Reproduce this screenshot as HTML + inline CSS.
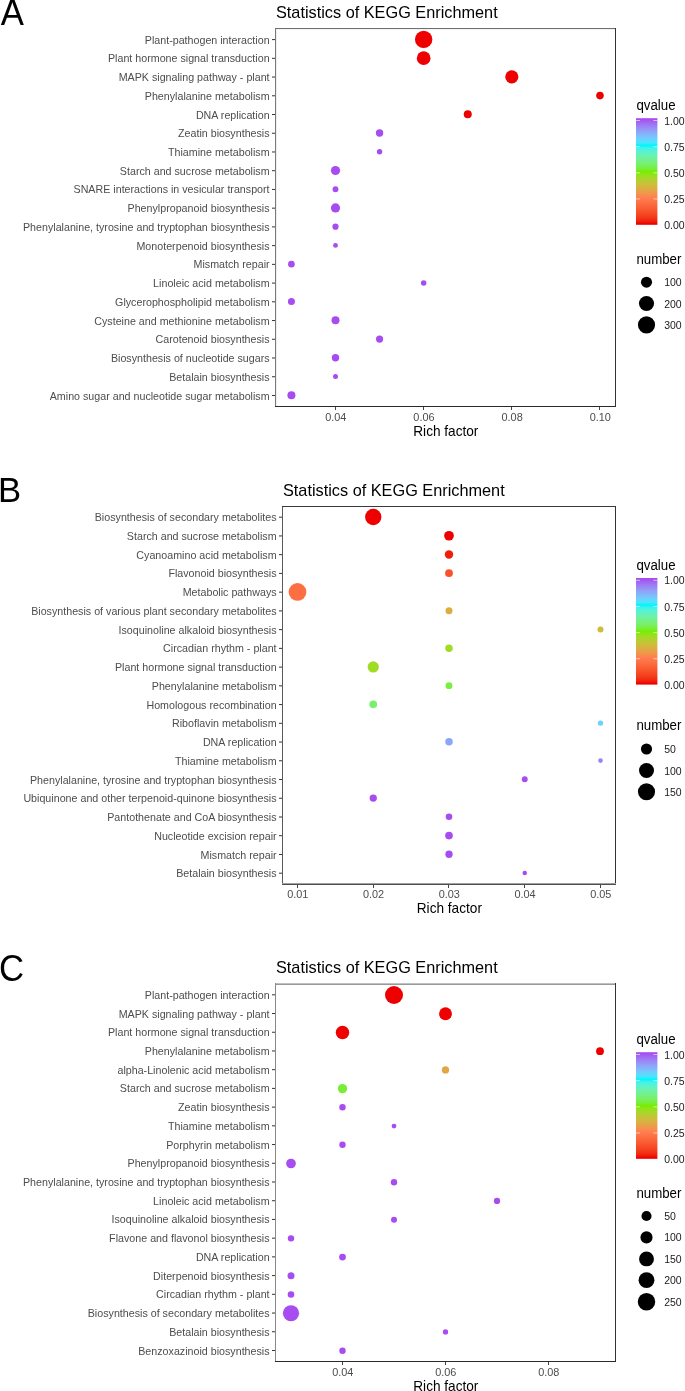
<!DOCTYPE html>
<html><head><meta charset="utf-8"><title>KEGG Enrichment</title>
<style>html,body{margin:0;padding:0;background:#fff;}body{width:685px;height:1391px;overflow:hidden;}svg{display:block;will-change:transform;}</style>
</head><body>
<svg width="685" height="1391" viewBox="0 0 685 1391" font-family="Liberation Sans, sans-serif">
<rect width="685" height="1391" fill="#fff"/>
<text x="276" y="18" font-size="16.3" fill="#000" transform="matrix(1,0,0,1.04,0,-0.720)">Statistics of KEGG Enrichment</text>
<text x="0.7" y="24.7" font-size="34.7" fill="#000" transform="matrix(1,0,0,1.04,0,-0.988)">A</text>
<rect x="275" y="28" width="1" height="379" fill="#7A7A7A"/>
<rect x="276" y="29" width="1" height="377" fill="#EEEEEE"/>
<rect x="275" y="28" width="341" height="1" fill="#707070"/>
<rect x="276" y="29" width="339" height="1" fill="#F2F2F2"/>
<rect x="615" y="28" width="1" height="379" fill="#333333"/>
<rect x="275" y="406" width="341" height="1" fill="#2A2A2A"/>
<line x1="272" y1="39.60" x2="275" y2="39.60" stroke="#333" stroke-width="1.0"/>
<text x="269.6" y="43.65" font-size="10.7" fill="#4D4D4D" text-anchor="end" transform="matrix(1,0,0,1.04,0,-1.746)">Plant-pathogen interaction</text>
<line x1="272" y1="58.33" x2="275" y2="58.33" stroke="#333" stroke-width="1.0"/>
<text x="269.6" y="62.38" font-size="10.7" fill="#4D4D4D" text-anchor="end" transform="matrix(1,0,0,1.04,0,-2.495)">Plant hormone signal transduction</text>
<line x1="272" y1="77.06" x2="275" y2="77.06" stroke="#333" stroke-width="1.0"/>
<text x="269.6" y="81.11" font-size="10.7" fill="#4D4D4D" text-anchor="end" transform="matrix(1,0,0,1.04,0,-3.244)">MAPK signaling pathway - plant</text>
<line x1="272" y1="95.79" x2="275" y2="95.79" stroke="#333" stroke-width="1.0"/>
<text x="269.6" y="99.84" font-size="10.7" fill="#4D4D4D" text-anchor="end" transform="matrix(1,0,0,1.04,0,-3.994)">Phenylalanine metabolism</text>
<line x1="272" y1="114.52" x2="275" y2="114.52" stroke="#333" stroke-width="1.0"/>
<text x="269.6" y="118.57" font-size="10.7" fill="#4D4D4D" text-anchor="end" transform="matrix(1,0,0,1.04,0,-4.743)">DNA replication</text>
<line x1="272" y1="133.25" x2="275" y2="133.25" stroke="#333" stroke-width="1.0"/>
<text x="269.6" y="137.30" font-size="10.7" fill="#4D4D4D" text-anchor="end" transform="matrix(1,0,0,1.04,0,-5.492)">Zeatin biosynthesis</text>
<line x1="272" y1="151.98" x2="275" y2="151.98" stroke="#333" stroke-width="1.0"/>
<text x="269.6" y="156.03" font-size="10.7" fill="#4D4D4D" text-anchor="end" transform="matrix(1,0,0,1.04,0,-6.241)">Thiamine metabolism</text>
<line x1="272" y1="170.71" x2="275" y2="170.71" stroke="#333" stroke-width="1.0"/>
<text x="269.6" y="174.76" font-size="10.7" fill="#4D4D4D" text-anchor="end" transform="matrix(1,0,0,1.04,0,-6.990)">Starch and sucrose metabolism</text>
<line x1="272" y1="189.44" x2="275" y2="189.44" stroke="#333" stroke-width="1.0"/>
<text x="269.6" y="193.49" font-size="10.7" fill="#4D4D4D" text-anchor="end" transform="matrix(1,0,0,1.04,0,-7.740)">SNARE interactions in vesicular transport</text>
<line x1="272" y1="208.17" x2="275" y2="208.17" stroke="#333" stroke-width="1.0"/>
<text x="269.6" y="212.22" font-size="10.7" fill="#4D4D4D" text-anchor="end" transform="matrix(1,0,0,1.04,0,-8.489)">Phenylpropanoid biosynthesis</text>
<line x1="272" y1="226.90" x2="275" y2="226.90" stroke="#333" stroke-width="1.0"/>
<text x="269.6" y="230.95" font-size="10.7" fill="#4D4D4D" text-anchor="end" transform="matrix(1,0,0,1.04,0,-9.238)">Phenylalanine, tyrosine and tryptophan biosynthesis</text>
<line x1="272" y1="245.63" x2="275" y2="245.63" stroke="#333" stroke-width="1.0"/>
<text x="269.6" y="249.68" font-size="10.7" fill="#4D4D4D" text-anchor="end" transform="matrix(1,0,0,1.04,0,-9.987)">Monoterpenoid biosynthesis</text>
<line x1="272" y1="264.36" x2="275" y2="264.36" stroke="#333" stroke-width="1.0"/>
<text x="269.6" y="268.41" font-size="10.7" fill="#4D4D4D" text-anchor="end" transform="matrix(1,0,0,1.04,0,-10.736)">Mismatch repair</text>
<line x1="272" y1="283.09" x2="275" y2="283.09" stroke="#333" stroke-width="1.0"/>
<text x="269.6" y="287.14" font-size="10.7" fill="#4D4D4D" text-anchor="end" transform="matrix(1,0,0,1.04,0,-11.486)">Linoleic acid metabolism</text>
<line x1="272" y1="301.82" x2="275" y2="301.82" stroke="#333" stroke-width="1.0"/>
<text x="269.6" y="305.87" font-size="10.7" fill="#4D4D4D" text-anchor="end" transform="matrix(1,0,0,1.04,0,-12.235)">Glycerophospholipid metabolism</text>
<line x1="272" y1="320.55" x2="275" y2="320.55" stroke="#333" stroke-width="1.0"/>
<text x="269.6" y="324.60" font-size="10.7" fill="#4D4D4D" text-anchor="end" transform="matrix(1,0,0,1.04,0,-12.984)">Cysteine and methionine metabolism</text>
<line x1="272" y1="339.28" x2="275" y2="339.28" stroke="#333" stroke-width="1.0"/>
<text x="269.6" y="343.33" font-size="10.7" fill="#4D4D4D" text-anchor="end" transform="matrix(1,0,0,1.04,0,-13.733)">Carotenoid biosynthesis</text>
<line x1="272" y1="358.01" x2="275" y2="358.01" stroke="#333" stroke-width="1.0"/>
<text x="269.6" y="362.06" font-size="10.7" fill="#4D4D4D" text-anchor="end" transform="matrix(1,0,0,1.04,0,-14.482)">Biosynthesis of nucleotide sugars</text>
<line x1="272" y1="376.74" x2="275" y2="376.74" stroke="#333" stroke-width="1.0"/>
<text x="269.6" y="380.79" font-size="10.7" fill="#4D4D4D" text-anchor="end" transform="matrix(1,0,0,1.04,0,-15.232)">Betalain biosynthesis</text>
<line x1="272" y1="395.47" x2="275" y2="395.47" stroke="#333" stroke-width="1.0"/>
<text x="269.6" y="399.52" font-size="10.7" fill="#4D4D4D" text-anchor="end" transform="matrix(1,0,0,1.04,0,-15.981)">Amino sugar and nucleotide sugar metabolism</text>
<rect x="335" y="407" width="1" height="3" fill="#444"/>
<text x="335.80" y="420.60" font-size="10.9" fill="#4D4D4D" text-anchor="middle" transform="matrix(1,0,0,1.04,0,-16.824)">0.04</text>
<rect x="423" y="407" width="1" height="3" fill="#444"/>
<text x="423.96" y="420.60" font-size="10.9" fill="#4D4D4D" text-anchor="middle" transform="matrix(1,0,0,1.04,0,-16.824)">0.06</text>
<rect x="511" y="407" width="1" height="3" fill="#444"/>
<text x="512.12" y="420.60" font-size="10.9" fill="#4D4D4D" text-anchor="middle" transform="matrix(1,0,0,1.04,0,-16.824)">0.08</text>
<rect x="599" y="407" width="1" height="3" fill="#444"/>
<text x="600.28" y="420.60" font-size="10.9" fill="#4D4D4D" text-anchor="middle" transform="matrix(1,0,0,1.04,0,-16.824)">0.10</text>
<text x="445.85" y="436.00" font-size="13.65" fill="#000" text-anchor="middle" transform="matrix(1,0,0,1.04,0,-17.440)">Rich factor</text>
<circle cx="423.66" cy="39.40" r="8.70" fill="#EE0000"/>
<circle cx="423.66" cy="58.13" r="6.85" fill="#EE0000"/>
<circle cx="511.82" cy="76.86" r="6.60" fill="#EE0000"/>
<circle cx="599.98" cy="95.59" r="3.80" fill="#EE0000"/>
<circle cx="467.74" cy="114.32" r="4.00" fill="#EE0000"/>
<circle cx="379.58" cy="133.05" r="3.70" fill="#A64CF0"/>
<circle cx="379.58" cy="151.78" r="2.70" fill="#A64CF0"/>
<circle cx="335.50" cy="170.51" r="4.60" fill="#A64CF0"/>
<circle cx="335.50" cy="189.24" r="2.90" fill="#A64CF0"/>
<circle cx="335.50" cy="207.97" r="4.60" fill="#A64CF0"/>
<circle cx="335.50" cy="226.70" r="3.10" fill="#A64CF0"/>
<circle cx="335.50" cy="245.43" r="2.40" fill="#A64CF0"/>
<circle cx="291.42" cy="264.16" r="3.30" fill="#A64CF0"/>
<circle cx="423.66" cy="282.89" r="2.75" fill="#A64CF0"/>
<circle cx="291.42" cy="301.62" r="3.50" fill="#A64CF0"/>
<circle cx="335.50" cy="320.35" r="4.00" fill="#A64CF0"/>
<circle cx="379.58" cy="339.08" r="3.60" fill="#A64CF0"/>
<circle cx="335.50" cy="357.81" r="3.70" fill="#A64CF0"/>
<circle cx="335.50" cy="376.54" r="2.50" fill="#A64CF0"/>
<circle cx="291.42" cy="395.27" r="4.00" fill="#A64CF0"/>
<text x="636.4" y="110.10" font-size="13.3" fill="#000" transform="matrix(1,0,0,1.04,0,-4.404)">qvalue</text>
<defs><linearGradient id="gA" gradientUnits="userSpaceOnUse" x1="0" y1="119.20" x2="0" y2="223.80"><stop offset="0.000" stop-color="#A64CF0"/><stop offset="0.025" stop-color="#A362F2"/><stop offset="0.050" stop-color="#9F75F4"/><stop offset="0.075" stop-color="#9A87F5"/><stop offset="0.100" stop-color="#9498F7"/><stop offset="0.125" stop-color="#8CA8F8"/><stop offset="0.150" stop-color="#81B8FA"/><stop offset="0.175" stop-color="#74C8FB"/><stop offset="0.200" stop-color="#63D7FD"/><stop offset="0.225" stop-color="#48E6FE"/><stop offset="0.250" stop-color="#00F5FF"/><stop offset="0.275" stop-color="#3EF4EB"/><stop offset="0.300" stop-color="#54F3D7"/><stop offset="0.325" stop-color="#61F2C3"/><stop offset="0.350" stop-color="#6BF2AF"/><stop offset="0.375" stop-color="#71F19A"/><stop offset="0.400" stop-color="#75F085"/><stop offset="0.425" stop-color="#78F06F"/><stop offset="0.450" stop-color="#78EF57"/><stop offset="0.475" stop-color="#78EF3A"/><stop offset="0.500" stop-color="#76EE00"/><stop offset="0.525" stop-color="#8DE518"/><stop offset="0.550" stop-color="#A0DC24"/><stop offset="0.575" stop-color="#B0D22D"/><stop offset="0.600" stop-color="#BFC834"/><stop offset="0.625" stop-color="#CCBE3A"/><stop offset="0.650" stop-color="#D7B33F"/><stop offset="0.675" stop-color="#E2A744"/><stop offset="0.700" stop-color="#ED9B48"/><stop offset="0.725" stop-color="#F68E4C"/><stop offset="0.750" stop-color="#FF7F50"/><stop offset="0.775" stop-color="#FE7749"/><stop offset="0.800" stop-color="#FD6F42"/><stop offset="0.825" stop-color="#FB663A"/><stop offset="0.850" stop-color="#FA5E33"/><stop offset="0.875" stop-color="#F8542C"/><stop offset="0.900" stop-color="#F64A24"/><stop offset="0.925" stop-color="#F43F1D"/><stop offset="0.950" stop-color="#F23214"/><stop offset="0.975" stop-color="#F0210A"/><stop offset="1.000" stop-color="#EE0000"/></linearGradient></defs>
<rect x="636" y="118.2" width="21.4" height="106.6" fill="url(#gA)"/>
<rect x="636" y="120.00" width="4" height="1" fill="#fff" opacity="0.6"/>
<rect x="653.4" y="120.00" width="4" height="1" fill="#fff" opacity="0.6"/>
<text x="664.2" y="124.60" font-size="10.5" fill="#1A1A1A" transform="matrix(1,0,0,1.04,0,-4.984)">1.00</text>
<rect x="636" y="146.15" width="4" height="1" fill="#fff" opacity="0.6"/>
<rect x="653.4" y="146.15" width="4" height="1" fill="#fff" opacity="0.6"/>
<text x="664.2" y="150.75" font-size="10.5" fill="#1A1A1A" transform="matrix(1,0,0,1.04,0,-6.030)">0.75</text>
<rect x="636" y="172.30" width="4" height="1" fill="#fff" opacity="0.6"/>
<rect x="653.4" y="172.30" width="4" height="1" fill="#fff" opacity="0.6"/>
<text x="664.2" y="176.90" font-size="10.5" fill="#1A1A1A" transform="matrix(1,0,0,1.04,0,-7.076)">0.50</text>
<rect x="636" y="198.45" width="4" height="1" fill="#fff" opacity="0.6"/>
<rect x="653.4" y="198.45" width="4" height="1" fill="#fff" opacity="0.6"/>
<text x="664.2" y="203.05" font-size="10.5" fill="#1A1A1A" transform="matrix(1,0,0,1.04,0,-8.122)">0.25</text>
<text x="664.2" y="229.20" font-size="10.5" fill="#1A1A1A" transform="matrix(1,0,0,1.04,0,-9.168)">0.00</text>
<text x="636.4" y="263.6" font-size="13.3" fill="#000" transform="matrix(1,0,0,1.04,0,-10.544)">number</text>
<circle cx="646.5" cy="282.2" r="5.55" fill="#000"/>
<text x="664.2" y="286.30" font-size="10.5" fill="#1A1A1A" transform="matrix(1,0,0,1.04,0,-11.452)">100</text>
<circle cx="646.5" cy="303.5" r="7.55" fill="#000"/>
<text x="664.2" y="307.60" font-size="10.5" fill="#1A1A1A" transform="matrix(1,0,0,1.04,0,-12.304)">200</text>
<circle cx="646.5" cy="324.9" r="8.55" fill="#000"/>
<text x="664.2" y="329.00" font-size="10.5" fill="#1A1A1A" transform="matrix(1,0,0,1.04,0,-13.160)">300</text>
<text x="283" y="495.6" font-size="16.3" fill="#000" transform="matrix(1,0,0,1.04,0,-19.824)">Statistics of KEGG Enrichment</text>
<text x="-1.95" y="502.4" font-size="34.7" fill="#000">B</text>
<rect x="282" y="506" width="1" height="379" fill="#5A5A5A"/>
<rect x="282" y="506" width="334" height="1" fill="#3A3A3A"/>
<rect x="615" y="506" width="1" height="379" fill="#333333"/>
<rect x="282" y="883" width="334" height="1" fill="#A0A0A0"/>
<rect x="282" y="884" width="334" height="1" fill="#505050"/>
<line x1="279" y1="517.20" x2="282" y2="517.20" stroke="#333" stroke-width="1.0"/>
<text x="276.6" y="521.25" font-size="10.7" fill="#4D4D4D" text-anchor="end" transform="matrix(1,0,0,1.04,0,-20.850)">Biosynthesis of secondary metabolites</text>
<line x1="279" y1="535.94" x2="282" y2="535.94" stroke="#333" stroke-width="1.0"/>
<text x="276.6" y="539.99" font-size="10.7" fill="#4D4D4D" text-anchor="end" transform="matrix(1,0,0,1.04,0,-21.599)">Starch and sucrose metabolism</text>
<line x1="279" y1="554.67" x2="282" y2="554.67" stroke="#333" stroke-width="1.0"/>
<text x="276.6" y="558.72" font-size="10.7" fill="#4D4D4D" text-anchor="end" transform="matrix(1,0,0,1.04,0,-22.349)">Cyanoamino acid metabolism</text>
<line x1="279" y1="573.41" x2="282" y2="573.41" stroke="#333" stroke-width="1.0"/>
<text x="276.6" y="577.46" font-size="10.7" fill="#4D4D4D" text-anchor="end" transform="matrix(1,0,0,1.04,0,-23.098)">Flavonoid biosynthesis</text>
<line x1="279" y1="592.15" x2="282" y2="592.15" stroke="#333" stroke-width="1.0"/>
<text x="276.6" y="596.20" font-size="10.7" fill="#4D4D4D" text-anchor="end" transform="matrix(1,0,0,1.04,0,-23.848)">Metabolic pathways</text>
<line x1="279" y1="610.88" x2="282" y2="610.88" stroke="#333" stroke-width="1.0"/>
<text x="276.6" y="614.93" font-size="10.7" fill="#4D4D4D" text-anchor="end" transform="matrix(1,0,0,1.04,0,-24.597)">Biosynthesis of various plant secondary metabolites</text>
<line x1="279" y1="629.62" x2="282" y2="629.62" stroke="#333" stroke-width="1.0"/>
<text x="276.6" y="633.67" font-size="10.7" fill="#4D4D4D" text-anchor="end" transform="matrix(1,0,0,1.04,0,-25.347)">Isoquinoline alkaloid biosynthesis</text>
<line x1="279" y1="648.36" x2="282" y2="648.36" stroke="#333" stroke-width="1.0"/>
<text x="276.6" y="652.41" font-size="10.7" fill="#4D4D4D" text-anchor="end" transform="matrix(1,0,0,1.04,0,-26.096)">Circadian rhythm - plant</text>
<line x1="279" y1="667.10" x2="282" y2="667.10" stroke="#333" stroke-width="1.0"/>
<text x="276.6" y="671.15" font-size="10.7" fill="#4D4D4D" text-anchor="end" transform="matrix(1,0,0,1.04,0,-26.846)">Plant hormone signal transduction</text>
<line x1="279" y1="685.83" x2="282" y2="685.83" stroke="#333" stroke-width="1.0"/>
<text x="276.6" y="689.88" font-size="10.7" fill="#4D4D4D" text-anchor="end" transform="matrix(1,0,0,1.04,0,-27.595)">Phenylalanine metabolism</text>
<line x1="279" y1="704.57" x2="282" y2="704.57" stroke="#333" stroke-width="1.0"/>
<text x="276.6" y="708.62" font-size="10.7" fill="#4D4D4D" text-anchor="end" transform="matrix(1,0,0,1.04,0,-28.345)">Homologous recombination</text>
<line x1="279" y1="723.31" x2="282" y2="723.31" stroke="#333" stroke-width="1.0"/>
<text x="276.6" y="727.36" font-size="10.7" fill="#4D4D4D" text-anchor="end" transform="matrix(1,0,0,1.04,0,-29.094)">Riboflavin metabolism</text>
<line x1="279" y1="742.04" x2="282" y2="742.04" stroke="#333" stroke-width="1.0"/>
<text x="276.6" y="746.09" font-size="10.7" fill="#4D4D4D" text-anchor="end" transform="matrix(1,0,0,1.04,0,-29.844)">DNA replication</text>
<line x1="279" y1="760.78" x2="282" y2="760.78" stroke="#333" stroke-width="1.0"/>
<text x="276.6" y="764.83" font-size="10.7" fill="#4D4D4D" text-anchor="end" transform="matrix(1,0,0,1.04,0,-30.593)">Thiamine metabolism</text>
<line x1="279" y1="779.52" x2="282" y2="779.52" stroke="#333" stroke-width="1.0"/>
<text x="276.6" y="783.57" font-size="10.7" fill="#4D4D4D" text-anchor="end" transform="matrix(1,0,0,1.04,0,-31.343)">Phenylalanine, tyrosine and tryptophan biosynthesis</text>
<line x1="279" y1="798.25" x2="282" y2="798.25" stroke="#333" stroke-width="1.0"/>
<text x="276.6" y="802.30" font-size="10.7" fill="#4D4D4D" text-anchor="end" transform="matrix(1,0,0,1.04,0,-32.092)">Ubiquinone and other terpenoid-quinone biosynthesis</text>
<line x1="279" y1="816.99" x2="282" y2="816.99" stroke="#333" stroke-width="1.0"/>
<text x="276.6" y="821.04" font-size="10.7" fill="#4D4D4D" text-anchor="end" transform="matrix(1,0,0,1.04,0,-32.842)">Pantothenate and CoA biosynthesis</text>
<line x1="279" y1="835.73" x2="282" y2="835.73" stroke="#333" stroke-width="1.0"/>
<text x="276.6" y="839.78" font-size="10.7" fill="#4D4D4D" text-anchor="end" transform="matrix(1,0,0,1.04,0,-33.591)">Nucleotide excision repair</text>
<line x1="279" y1="854.47" x2="282" y2="854.47" stroke="#333" stroke-width="1.0"/>
<text x="276.6" y="858.52" font-size="10.7" fill="#4D4D4D" text-anchor="end" transform="matrix(1,0,0,1.04,0,-34.341)">Mismatch repair</text>
<line x1="279" y1="873.20" x2="282" y2="873.20" stroke="#333" stroke-width="1.0"/>
<text x="276.6" y="877.25" font-size="10.7" fill="#4D4D4D" text-anchor="end" transform="matrix(1,0,0,1.04,0,-35.090)">Betalain biosynthesis</text>
<rect x="297" y="885" width="1" height="3" fill="#444"/>
<text x="297.80" y="897.90" font-size="10.9" fill="#4D4D4D" text-anchor="middle" transform="matrix(1,0,0,1.04,0,-35.916)">0.01</text>
<rect x="373" y="885" width="1" height="3" fill="#444"/>
<text x="373.55" y="897.90" font-size="10.9" fill="#4D4D4D" text-anchor="middle" transform="matrix(1,0,0,1.04,0,-35.916)">0.02</text>
<rect x="448" y="885" width="1" height="3" fill="#444"/>
<text x="449.30" y="897.90" font-size="10.9" fill="#4D4D4D" text-anchor="middle" transform="matrix(1,0,0,1.04,0,-35.916)">0.03</text>
<rect x="524" y="885" width="1" height="3" fill="#444"/>
<text x="525.05" y="897.90" font-size="10.9" fill="#4D4D4D" text-anchor="middle" transform="matrix(1,0,0,1.04,0,-35.916)">0.04</text>
<rect x="600" y="885" width="1" height="3" fill="#444"/>
<text x="600.80" y="897.90" font-size="10.9" fill="#4D4D4D" text-anchor="middle" transform="matrix(1,0,0,1.04,0,-35.916)">0.05</text>
<text x="449.35" y="913.10" font-size="13.65" fill="#000" text-anchor="middle" transform="matrix(1,0,0,1.04,0,-36.524)">Rich factor</text>
<circle cx="373.25" cy="517.00" r="8.20" fill="#EE0000"/>
<circle cx="449.00" cy="535.74" r="4.85" fill="#EE0000"/>
<circle cx="449.00" cy="554.47" r="4.20" fill="#F01D08"/>
<circle cx="449.00" cy="573.21" r="3.85" fill="#F8522A"/>
<circle cx="297.50" cy="591.95" r="8.90" fill="#FD6F42"/>
<circle cx="449.00" cy="610.68" r="3.50" fill="#DCAE41"/>
<circle cx="600.50" cy="629.42" r="3.00" fill="#CEBB3B"/>
<circle cx="449.00" cy="648.16" r="3.75" fill="#A0DC24"/>
<circle cx="373.25" cy="666.90" r="5.65" fill="#A0DC24"/>
<circle cx="449.00" cy="685.63" r="3.45" fill="#78EF41"/>
<circle cx="373.25" cy="704.37" r="3.85" fill="#78F06A"/>
<circle cx="600.50" cy="723.11" r="2.70" fill="#6AD1FC"/>
<circle cx="449.00" cy="741.84" r="3.75" fill="#8DA5F8"/>
<circle cx="600.50" cy="760.58" r="2.30" fill="#9C80F5"/>
<circle cx="524.75" cy="779.32" r="2.95" fill="#A64CF0"/>
<circle cx="373.25" cy="798.05" r="3.65" fill="#A64CF0"/>
<circle cx="449.00" cy="816.79" r="3.30" fill="#A64CF0"/>
<circle cx="449.00" cy="835.53" r="3.85" fill="#A64CF0"/>
<circle cx="449.00" cy="854.27" r="3.65" fill="#A64CF0"/>
<circle cx="524.75" cy="873.00" r="2.25" fill="#A64CF0"/>
<text x="636.4" y="569.90" font-size="13.3" fill="#000" transform="matrix(1,0,0,1.04,0,-22.796)">qvalue</text>
<defs><linearGradient id="gB" gradientUnits="userSpaceOnUse" x1="0" y1="579.00" x2="0" y2="683.60"><stop offset="0.000" stop-color="#A64CF0"/><stop offset="0.025" stop-color="#A362F2"/><stop offset="0.050" stop-color="#9F75F4"/><stop offset="0.075" stop-color="#9A87F5"/><stop offset="0.100" stop-color="#9498F7"/><stop offset="0.125" stop-color="#8CA8F8"/><stop offset="0.150" stop-color="#81B8FA"/><stop offset="0.175" stop-color="#74C8FB"/><stop offset="0.200" stop-color="#63D7FD"/><stop offset="0.225" stop-color="#48E6FE"/><stop offset="0.250" stop-color="#00F5FF"/><stop offset="0.275" stop-color="#3EF4EB"/><stop offset="0.300" stop-color="#54F3D7"/><stop offset="0.325" stop-color="#61F2C3"/><stop offset="0.350" stop-color="#6BF2AF"/><stop offset="0.375" stop-color="#71F19A"/><stop offset="0.400" stop-color="#75F085"/><stop offset="0.425" stop-color="#78F06F"/><stop offset="0.450" stop-color="#78EF57"/><stop offset="0.475" stop-color="#78EF3A"/><stop offset="0.500" stop-color="#76EE00"/><stop offset="0.525" stop-color="#8DE518"/><stop offset="0.550" stop-color="#A0DC24"/><stop offset="0.575" stop-color="#B0D22D"/><stop offset="0.600" stop-color="#BFC834"/><stop offset="0.625" stop-color="#CCBE3A"/><stop offset="0.650" stop-color="#D7B33F"/><stop offset="0.675" stop-color="#E2A744"/><stop offset="0.700" stop-color="#ED9B48"/><stop offset="0.725" stop-color="#F68E4C"/><stop offset="0.750" stop-color="#FF7F50"/><stop offset="0.775" stop-color="#FE7749"/><stop offset="0.800" stop-color="#FD6F42"/><stop offset="0.825" stop-color="#FB663A"/><stop offset="0.850" stop-color="#FA5E33"/><stop offset="0.875" stop-color="#F8542C"/><stop offset="0.900" stop-color="#F64A24"/><stop offset="0.925" stop-color="#F43F1D"/><stop offset="0.950" stop-color="#F23214"/><stop offset="0.975" stop-color="#F0210A"/><stop offset="1.000" stop-color="#EE0000"/></linearGradient></defs>
<rect x="636" y="578" width="21.4" height="106.6" fill="url(#gB)"/>
<rect x="636" y="579.80" width="4" height="1" fill="#fff" opacity="0.6"/>
<rect x="653.4" y="579.80" width="4" height="1" fill="#fff" opacity="0.6"/>
<text x="664.2" y="584.40" font-size="10.5" fill="#1A1A1A" transform="matrix(1,0,0,1.04,0,-23.376)">1.00</text>
<rect x="636" y="605.95" width="4" height="1" fill="#fff" opacity="0.6"/>
<rect x="653.4" y="605.95" width="4" height="1" fill="#fff" opacity="0.6"/>
<text x="664.2" y="610.55" font-size="10.5" fill="#1A1A1A" transform="matrix(1,0,0,1.04,0,-24.422)">0.75</text>
<rect x="636" y="632.10" width="4" height="1" fill="#fff" opacity="0.6"/>
<rect x="653.4" y="632.10" width="4" height="1" fill="#fff" opacity="0.6"/>
<text x="664.2" y="636.70" font-size="10.5" fill="#1A1A1A" transform="matrix(1,0,0,1.04,0,-25.468)">0.50</text>
<rect x="636" y="658.25" width="4" height="1" fill="#fff" opacity="0.6"/>
<rect x="653.4" y="658.25" width="4" height="1" fill="#fff" opacity="0.6"/>
<text x="664.2" y="662.85" font-size="10.5" fill="#1A1A1A" transform="matrix(1,0,0,1.04,0,-26.514)">0.25</text>
<text x="664.2" y="689.00" font-size="10.5" fill="#1A1A1A" transform="matrix(1,0,0,1.04,0,-27.560)">0.00</text>
<text x="636.4" y="729.9" font-size="13.3" fill="#000" transform="matrix(1,0,0,1.04,0,-29.196)">number</text>
<circle cx="646.5" cy="749" r="5.55" fill="#000"/>
<text x="664.2" y="753.10" font-size="10.5" fill="#1A1A1A" transform="matrix(1,0,0,1.04,0,-30.124)">50</text>
<circle cx="646.5" cy="770.5" r="7.5" fill="#000"/>
<text x="664.2" y="774.60" font-size="10.5" fill="#1A1A1A" transform="matrix(1,0,0,1.04,0,-30.984)">100</text>
<circle cx="646.5" cy="791.7" r="8.55" fill="#000"/>
<text x="664.2" y="795.80" font-size="10.5" fill="#1A1A1A" transform="matrix(1,0,0,1.04,0,-31.832)">150</text>
<text x="276" y="973" font-size="16.3" fill="#000" transform="matrix(1,0,0,1.04,0,-38.920)">Statistics of KEGG Enrichment</text>
<text x="-1.1" y="980.8" font-size="34.7" fill="#000" transform="matrix(1,0,0,1.04,0,-39.232)">C</text>
<rect x="275" y="983" width="341" height="1" fill="#C0C0C0"/>
<rect x="275" y="984" width="341" height="1" fill="#999999"/>
<rect x="275" y="983" width="1" height="379" fill="#888888"/>
<rect x="615" y="983" width="1" height="379" fill="#333333"/>
<rect x="275" y="1361" width="341" height="1" fill="#2A2A2A"/>
<line x1="272" y1="994.80" x2="275" y2="994.80" stroke="#333" stroke-width="1.0"/>
<text x="269.6" y="998.85" font-size="10.7" fill="#4D4D4D" text-anchor="end" transform="matrix(1,0,0,1.04,0,-39.954)">Plant-pathogen interaction</text>
<line x1="272" y1="1013.52" x2="275" y2="1013.52" stroke="#333" stroke-width="1.0"/>
<text x="269.6" y="1017.57" font-size="10.7" fill="#4D4D4D" text-anchor="end" transform="matrix(1,0,0,1.04,0,-40.703)">MAPK signaling pathway - plant</text>
<line x1="272" y1="1032.24" x2="275" y2="1032.24" stroke="#333" stroke-width="1.0"/>
<text x="269.6" y="1036.29" font-size="10.7" fill="#4D4D4D" text-anchor="end" transform="matrix(1,0,0,1.04,0,-41.452)">Plant hormone signal transduction</text>
<line x1="272" y1="1050.96" x2="275" y2="1050.96" stroke="#333" stroke-width="1.0"/>
<text x="269.6" y="1055.01" font-size="10.7" fill="#4D4D4D" text-anchor="end" transform="matrix(1,0,0,1.04,0,-42.200)">Phenylalanine metabolism</text>
<line x1="272" y1="1069.68" x2="275" y2="1069.68" stroke="#333" stroke-width="1.0"/>
<text x="269.6" y="1073.73" font-size="10.7" fill="#4D4D4D" text-anchor="end" transform="matrix(1,0,0,1.04,0,-42.949)">alpha-Linolenic acid metabolism</text>
<line x1="272" y1="1088.40" x2="275" y2="1088.40" stroke="#333" stroke-width="1.0"/>
<text x="269.6" y="1092.45" font-size="10.7" fill="#4D4D4D" text-anchor="end" transform="matrix(1,0,0,1.04,0,-43.698)">Starch and sucrose metabolism</text>
<line x1="272" y1="1107.12" x2="275" y2="1107.12" stroke="#333" stroke-width="1.0"/>
<text x="269.6" y="1111.17" font-size="10.7" fill="#4D4D4D" text-anchor="end" transform="matrix(1,0,0,1.04,0,-44.447)">Zeatin biosynthesis</text>
<line x1="272" y1="1125.84" x2="275" y2="1125.84" stroke="#333" stroke-width="1.0"/>
<text x="269.6" y="1129.89" font-size="10.7" fill="#4D4D4D" text-anchor="end" transform="matrix(1,0,0,1.04,0,-45.196)">Thiamine metabolism</text>
<line x1="272" y1="1144.56" x2="275" y2="1144.56" stroke="#333" stroke-width="1.0"/>
<text x="269.6" y="1148.61" font-size="10.7" fill="#4D4D4D" text-anchor="end" transform="matrix(1,0,0,1.04,0,-45.944)">Porphyrin metabolism</text>
<line x1="272" y1="1163.28" x2="275" y2="1163.28" stroke="#333" stroke-width="1.0"/>
<text x="269.6" y="1167.33" font-size="10.7" fill="#4D4D4D" text-anchor="end" transform="matrix(1,0,0,1.04,0,-46.693)">Phenylpropanoid biosynthesis</text>
<line x1="272" y1="1182.00" x2="275" y2="1182.00" stroke="#333" stroke-width="1.0"/>
<text x="269.6" y="1186.05" font-size="10.7" fill="#4D4D4D" text-anchor="end" transform="matrix(1,0,0,1.04,0,-47.442)">Phenylalanine, tyrosine and tryptophan biosynthesis</text>
<line x1="272" y1="1200.72" x2="275" y2="1200.72" stroke="#333" stroke-width="1.0"/>
<text x="269.6" y="1204.77" font-size="10.7" fill="#4D4D4D" text-anchor="end" transform="matrix(1,0,0,1.04,0,-48.191)">Linoleic acid metabolism</text>
<line x1="272" y1="1219.44" x2="275" y2="1219.44" stroke="#333" stroke-width="1.0"/>
<text x="269.6" y="1223.49" font-size="10.7" fill="#4D4D4D" text-anchor="end" transform="matrix(1,0,0,1.04,0,-48.940)">Isoquinoline alkaloid biosynthesis</text>
<line x1="272" y1="1238.16" x2="275" y2="1238.16" stroke="#333" stroke-width="1.0"/>
<text x="269.6" y="1242.21" font-size="10.7" fill="#4D4D4D" text-anchor="end" transform="matrix(1,0,0,1.04,0,-49.688)">Flavone and flavonol biosynthesis</text>
<line x1="272" y1="1256.88" x2="275" y2="1256.88" stroke="#333" stroke-width="1.0"/>
<text x="269.6" y="1260.93" font-size="10.7" fill="#4D4D4D" text-anchor="end" transform="matrix(1,0,0,1.04,0,-50.437)">DNA replication</text>
<line x1="272" y1="1275.60" x2="275" y2="1275.60" stroke="#333" stroke-width="1.0"/>
<text x="269.6" y="1279.65" font-size="10.7" fill="#4D4D4D" text-anchor="end" transform="matrix(1,0,0,1.04,0,-51.186)">Diterpenoid biosynthesis</text>
<line x1="272" y1="1294.32" x2="275" y2="1294.32" stroke="#333" stroke-width="1.0"/>
<text x="269.6" y="1298.37" font-size="10.7" fill="#4D4D4D" text-anchor="end" transform="matrix(1,0,0,1.04,0,-51.935)">Circadian rhythm - plant</text>
<line x1="272" y1="1313.04" x2="275" y2="1313.04" stroke="#333" stroke-width="1.0"/>
<text x="269.6" y="1317.09" font-size="10.7" fill="#4D4D4D" text-anchor="end" transform="matrix(1,0,0,1.04,0,-52.684)">Biosynthesis of secondary metabolites</text>
<line x1="272" y1="1331.76" x2="275" y2="1331.76" stroke="#333" stroke-width="1.0"/>
<text x="269.6" y="1335.81" font-size="10.7" fill="#4D4D4D" text-anchor="end" transform="matrix(1,0,0,1.04,0,-53.432)">Betalain biosynthesis</text>
<line x1="272" y1="1350.48" x2="275" y2="1350.48" stroke="#333" stroke-width="1.0"/>
<text x="269.6" y="1354.53" font-size="10.7" fill="#4D4D4D" text-anchor="end" transform="matrix(1,0,0,1.04,0,-54.181)">Benzoxazinoid biosynthesis</text>
<rect x="342" y="1362" width="1" height="3" fill="#444"/>
<text x="342.80" y="1375.70" font-size="10.9" fill="#4D4D4D" text-anchor="middle" transform="matrix(1,0,0,1.04,0,-55.028)">0.04</text>
<rect x="445" y="1362" width="1" height="3" fill="#444"/>
<text x="445.80" y="1375.70" font-size="10.9" fill="#4D4D4D" text-anchor="middle" transform="matrix(1,0,0,1.04,0,-55.028)">0.06</text>
<rect x="548" y="1362" width="1" height="3" fill="#444"/>
<text x="548.80" y="1375.70" font-size="10.9" fill="#4D4D4D" text-anchor="middle" transform="matrix(1,0,0,1.04,0,-55.028)">0.08</text>
<text x="445.85" y="1391.00" font-size="13.65" fill="#000" text-anchor="middle" transform="matrix(1,0,0,1.04,0,-55.640)">Rich factor</text>
<circle cx="394.00" cy="995.00" r="9.00" fill="#EE0000"/>
<circle cx="445.50" cy="1013.72" r="6.45" fill="#EE0000"/>
<circle cx="342.50" cy="1032.44" r="6.75" fill="#EE0000"/>
<circle cx="600.00" cy="1051.16" r="3.90" fill="#EE0000"/>
<circle cx="445.50" cy="1069.88" r="3.65" fill="#E2A744"/>
<circle cx="342.50" cy="1088.60" r="4.65" fill="#78EE33"/>
<circle cx="342.50" cy="1107.32" r="3.20" fill="#A64CF0"/>
<circle cx="394.00" cy="1126.04" r="2.40" fill="#A64CF0"/>
<circle cx="342.50" cy="1144.76" r="3.20" fill="#A64CF0"/>
<circle cx="291.00" cy="1163.48" r="4.85" fill="#A64CF0"/>
<circle cx="394.00" cy="1182.20" r="3.20" fill="#A64CF0"/>
<circle cx="497.00" cy="1200.92" r="3.15" fill="#A64CF0"/>
<circle cx="394.00" cy="1219.64" r="3.00" fill="#A64CF0"/>
<circle cx="291.00" cy="1238.36" r="3.20" fill="#A64CF0"/>
<circle cx="342.50" cy="1257.08" r="3.40" fill="#A64CF0"/>
<circle cx="291.00" cy="1275.80" r="3.50" fill="#A64CF0"/>
<circle cx="291.00" cy="1294.52" r="3.30" fill="#A64CF0"/>
<circle cx="291.00" cy="1313.24" r="8.10" fill="#A64CF0"/>
<circle cx="445.50" cy="1331.96" r="2.65" fill="#A64CF0"/>
<circle cx="342.50" cy="1350.68" r="3.20" fill="#A64CF0"/>
<text x="636.4" y="1044.10" font-size="13.3" fill="#000" transform="matrix(1,0,0,1.04,0,-41.764)">qvalue</text>
<defs><linearGradient id="gC" gradientUnits="userSpaceOnUse" x1="0" y1="1053.20" x2="0" y2="1157.80"><stop offset="0.000" stop-color="#A64CF0"/><stop offset="0.025" stop-color="#A362F2"/><stop offset="0.050" stop-color="#9F75F4"/><stop offset="0.075" stop-color="#9A87F5"/><stop offset="0.100" stop-color="#9498F7"/><stop offset="0.125" stop-color="#8CA8F8"/><stop offset="0.150" stop-color="#81B8FA"/><stop offset="0.175" stop-color="#74C8FB"/><stop offset="0.200" stop-color="#63D7FD"/><stop offset="0.225" stop-color="#48E6FE"/><stop offset="0.250" stop-color="#00F5FF"/><stop offset="0.275" stop-color="#3EF4EB"/><stop offset="0.300" stop-color="#54F3D7"/><stop offset="0.325" stop-color="#61F2C3"/><stop offset="0.350" stop-color="#6BF2AF"/><stop offset="0.375" stop-color="#71F19A"/><stop offset="0.400" stop-color="#75F085"/><stop offset="0.425" stop-color="#78F06F"/><stop offset="0.450" stop-color="#78EF57"/><stop offset="0.475" stop-color="#78EF3A"/><stop offset="0.500" stop-color="#76EE00"/><stop offset="0.525" stop-color="#8DE518"/><stop offset="0.550" stop-color="#A0DC24"/><stop offset="0.575" stop-color="#B0D22D"/><stop offset="0.600" stop-color="#BFC834"/><stop offset="0.625" stop-color="#CCBE3A"/><stop offset="0.650" stop-color="#D7B33F"/><stop offset="0.675" stop-color="#E2A744"/><stop offset="0.700" stop-color="#ED9B48"/><stop offset="0.725" stop-color="#F68E4C"/><stop offset="0.750" stop-color="#FF7F50"/><stop offset="0.775" stop-color="#FE7749"/><stop offset="0.800" stop-color="#FD6F42"/><stop offset="0.825" stop-color="#FB663A"/><stop offset="0.850" stop-color="#FA5E33"/><stop offset="0.875" stop-color="#F8542C"/><stop offset="0.900" stop-color="#F64A24"/><stop offset="0.925" stop-color="#F43F1D"/><stop offset="0.950" stop-color="#F23214"/><stop offset="0.975" stop-color="#F0210A"/><stop offset="1.000" stop-color="#EE0000"/></linearGradient></defs>
<rect x="636" y="1052.2" width="21.4" height="106.6" fill="url(#gC)"/>
<rect x="636" y="1054.00" width="4" height="1" fill="#fff" opacity="0.6"/>
<rect x="653.4" y="1054.00" width="4" height="1" fill="#fff" opacity="0.6"/>
<text x="664.2" y="1058.60" font-size="10.5" fill="#1A1A1A" transform="matrix(1,0,0,1.04,0,-42.344)">1.00</text>
<rect x="636" y="1080.15" width="4" height="1" fill="#fff" opacity="0.6"/>
<rect x="653.4" y="1080.15" width="4" height="1" fill="#fff" opacity="0.6"/>
<text x="664.2" y="1084.75" font-size="10.5" fill="#1A1A1A" transform="matrix(1,0,0,1.04,0,-43.390)">0.75</text>
<rect x="636" y="1106.30" width="4" height="1" fill="#fff" opacity="0.6"/>
<rect x="653.4" y="1106.30" width="4" height="1" fill="#fff" opacity="0.6"/>
<text x="664.2" y="1110.90" font-size="10.5" fill="#1A1A1A" transform="matrix(1,0,0,1.04,0,-44.436)">0.50</text>
<rect x="636" y="1132.45" width="4" height="1" fill="#fff" opacity="0.6"/>
<rect x="653.4" y="1132.45" width="4" height="1" fill="#fff" opacity="0.6"/>
<text x="664.2" y="1137.05" font-size="10.5" fill="#1A1A1A" transform="matrix(1,0,0,1.04,0,-45.482)">0.25</text>
<text x="664.2" y="1163.20" font-size="10.5" fill="#1A1A1A" transform="matrix(1,0,0,1.04,0,-46.528)">0.00</text>
<text x="636.4" y="1197.6" font-size="13.3" fill="#000" transform="matrix(1,0,0,1.04,0,-47.904)">number</text>
<circle cx="646.5" cy="1216" r="5.05" fill="#000"/>
<text x="664.2" y="1220.10" font-size="10.5" fill="#1A1A1A" transform="matrix(1,0,0,1.04,0,-48.804)">50</text>
<circle cx="646.5" cy="1237.4" r="6.05" fill="#000"/>
<text x="664.2" y="1241.50" font-size="10.5" fill="#1A1A1A" transform="matrix(1,0,0,1.04,0,-49.660)">100</text>
<circle cx="646.5" cy="1258.9" r="7.45" fill="#000"/>
<text x="664.2" y="1263.00" font-size="10.5" fill="#1A1A1A" transform="matrix(1,0,0,1.04,0,-50.520)">150</text>
<circle cx="646.5" cy="1280.2" r="7.9" fill="#000"/>
<text x="664.2" y="1284.30" font-size="10.5" fill="#1A1A1A" transform="matrix(1,0,0,1.04,0,-51.372)">200</text>
<circle cx="646.5" cy="1301.7" r="8.75" fill="#000"/>
<text x="664.2" y="1305.80" font-size="10.5" fill="#1A1A1A" transform="matrix(1,0,0,1.04,0,-52.232)">250</text>
</svg>
</body></html>
